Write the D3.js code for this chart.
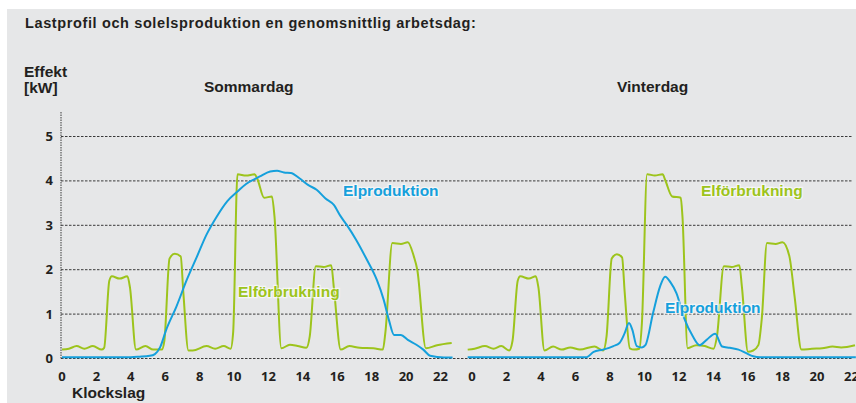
<!DOCTYPE html>
<html>
<head>
<meta charset="utf-8">
<script src="https://cdn.jsdelivr.net/npm/d3@7"></script>
<style>
  body { margin: 0; background: #fff; }
  svg { display: block; }
  .lbl { font-family: "Liberation Sans", Arial, sans-serif; font-weight: bold; }
  .tick { font-family: "Open Sans", "Noto Sans", sans-serif; font-weight: 700; font-size: 13px; fill: #231f20; }
</style>
</head>
<body>
<svg id="chart" width="856" height="403"></svg>
<script>
// hour, kW
const summerUse = [[0,0.2],[0.4,0.22],[0.85,0.28],[1.3,0.22],[1.8,0.28],[2.3,0.2],[2.45,0.24],[2.75,1.75],[2.9,1.85],[3.35,1.8],[3.8,1.85],[3.95,1.6],[4.3,0.2],[4.85,0.28],[5.3,0.2],[5.8,0.2],[5.95,0.4],[6.25,2.25],[6.55,2.36],[6.9,2.3],[7.05,1.5],[7.35,0.18],[7.6,0.18],[8.4,0.28],[8.9,0.22],[9.4,0.28],[9.8,0.22],[9.95,0.6],[10.2,4.15],[10.7,4.12],[11.2,4.15],[11.35,4.05],[11.75,3.62],[12.2,3.65],[12.35,3.2],[12.75,0.23],[13.25,0.31],[13.7,0.28],[14.2,0.24],[14.4,0.5],[14.75,2.08],[15.2,2.06],[15.65,2.1],[15.8,1.6],[16.2,0.2],[16.7,0.28],[17.3,0.24],[18.1,0.23],[18.65,0.2],[18.8,0.6],[19.2,2.6],[19.7,2.58],[20.1,2.62],[20.45,2.3],[20.65,2.0],[21.15,0.23],[21.8,0.3],[22.65,0.35]];

const summerProd = [[0,0.03],[2,0.03],[4,0.03],[4.5,0.04],[5.1,0.06],[5.4,0.1],[5.7,0.25],[6.05,0.64],[6.65,1.17],[7.25,1.77],[7.85,2.3],[8.4,2.79],[9.0,3.2],[9.6,3.54],[10.2,3.76],[10.7,3.93],[11.2,4.04],[11.5,4.1],[12.1,4.21],[12.5,4.23],[12.9,4.19],[13.3,4.18],[13.8,4.06],[14.3,3.91],[14.8,3.8],[15.3,3.61],[15.8,3.46],[16.2,3.2],[16.55,3.01],[17.1,2.67],[17.7,2.24],[18.3,1.77],[18.7,1.32],[19.0,0.87],[19.3,0.53],[19.7,0.53],[20.1,0.42],[20.6,0.31],[21.0,0.2],[21.4,0.06],[22.2,0.02],[22.7,0.02]];

const winterUse = [[-0.25,0.2],[0.15,0.22],[0.75,0.28],[1.25,0.22],[1.7,0.28],[2.15,0.18],[2.35,0.4],[2.65,1.75],[2.8,1.85],[3.3,1.8],[3.7,1.85],[3.85,1.6],[4.2,0.18],[4.7,0.27],[5.2,0.2],[5.7,0.25],[6.25,0.2],[7.1,0.27],[7.6,0.18],[7.8,0.5],[8.1,2.25],[8.4,2.35],[8.7,2.28],[8.85,1.5],[9.15,0.23],[9.4,0.2],[9.7,0.22],[9.85,0.8],[10.15,4.15],[10.6,4.12],[11.05,4.15],[11.2,4.02],[11.6,3.65],[12.1,3.62],[12.2,3.2],[12.5,0.23],[13.0,0.3],[13.5,0.28],[14.0,0.22],[14.2,0.5],[14.6,2.08],[15.05,2.06],[15.5,2.1],[15.65,1.6],[16.0,0.15],[16.3,0.18],[16.6,0.3],[16.8,0.9],[17.1,2.6],[17.6,2.58],[18.0,2.62],[18.4,2.3],[18.7,1.4],[19.1,0.2],[19.7,0.22],[20.3,0.23],[20.9,0.27],[21.4,0.25],[22.2,0.3]];

const winterProd = [[-0.25,0.03],[6.65,0.03],[7.05,0.15],[7.6,0.2],[8.2,0.28],[8.55,0.35],[8.85,0.57],[9.1,0.8],[9.3,0.64],[9.55,0.28],[9.85,0.25],[10.05,0.3],[10.5,1.03],[10.9,1.62],[11.2,1.84],[11.5,1.72],[11.85,1.47],[12.3,0.91],[12.8,0.5],[13.2,0.3],[13.6,0.42],[14.1,0.56],[14.5,0.27],[14.95,0.24],[15.45,0.2],[15.9,0.12],[16.3,0.05],[16.7,0.03],[22.25,0.03]];

const hourTicks = [0,2,4,6,8,10,12,14,16,18,20,22];
const kwTicks = [0,1,2,3,4,5];

const blue = "#15a0dc", green = "#9dc41c";

const svg = d3.select("#chart");

svg.append("rect")
    .attr("x", 7).attr("y", 9)
    .attr("width", 849).attr("height", 394)
    .attr("fill", "#e6e7e8");

const y = d3.scaleLinear().domain([0, 5]).range([358.5, 136.5]);
const xS = d3.scaleLinear().domain([0, 22]).range([62, 440.5]);
const xW = d3.scaleLinear().domain([0, 22]).range([472, 851.5]);

// gridlines
svg.append("g")
    .selectAll("line")
    .data(kwTicks)
    .join("line")
        .attr("x1", 61).attr("x2", 852)
        .attr("y1", d => y(d)).attr("y2", d => y(d))
        .style("stroke", "#3a3a3a")
        .style("stroke-width", 1)
        .style("stroke-dasharray", "2.5,1.5");

svg.append("line")
    .attr("x1", 61).attr("x2", 61)
    .attr("y1", 112).attr("y2", y(0))
    .style("stroke", "#3a3a3a")
    .style("stroke-dasharray", "1.5,1");

// y tick labels
svg.append("g")
    .selectAll("text")
    .data(kwTicks)
    .join("text")
        .attr("class", "tick")
        .attr("x", 53)
        .attr("y", d => y(d) + 4.5)
        .attr("text-anchor", "end")
        .text(d => d);

// x tick labels, both panels
[xS, xW].forEach(function (x) {
    svg.append("g")
        .selectAll("text")
        .data(hourTicks)
        .join("text")
            .attr("class", "tick")
            .attr("x", d => x(d))
            .attr("y", 381)
            .attr("text-anchor", "middle")
            .text(d => d);
});

const line = function (x) {
    return d3.line()
        .x(d => x(d[0]))
        .y(d => y(d[1]))
        .curve(d3.curveMonotoneX);
};

const series = [
    {data: summerUse, x: xS, color: green},
    {data: summerProd, x: xS, color: blue},
    {data: winterUse, x: xW, color: green},
    {data: winterProd, x: xW, color: blue}
];

svg.append("g")
    .selectAll("path")
    .data(series)
    .join("path")
        .attr("d", d => line(d.x)(d.data))
        .style("fill", "none")
        .style("stroke", d => d.color)
        .style("stroke-width", 2)
        .style("stroke-linejoin", "round");

// texts
const texts = [
    {t: "Lastprofil och solelsproduktion en genomsnittlig arbetsdag:", x: 25, y: 28, s: 14.5, ls: 0.62, c: "#231f20"},
    {t: "Effekt", x: 24, y: 77, s: 15.5, c: "#231f20"},
    {t: "[kW]", x: 24, y: 93, s: 15.5, c: "#231f20"},
    {t: "Sommardag", x: 204, y: 92, s: 15.5, c: "#231f20"},
    {t: "Vinterdag", x: 617, y: 92, s: 15.5, c: "#231f20"},
    {t: "Klockslag", x: 72, y: 398, s: 15.5, c: "#231f20"},
    {t: "Elproduktion", x: 343, y: 196, s: 15.5, c: blue, halo: true},
    {t: "Elförbrukning", x: 238, y: 297, s: 15.5, c: green, halo: true},
    {t: "Elförbrukning", x: 701, y: 196, s: 15.5, c: green, halo: true},
    {t: "Elproduktion", x: 665, y: 313, s: 15.5, c: blue, halo: true}
];

svg.append("g")
    .selectAll("text")
    .data(texts)
    .join("text")
        .attr("class", "lbl")
        .attr("x", d => d.x)
        .attr("y", d => d.y)
        .style("font-size", d => d.s + "px")
        .style("letter-spacing", d => (d.ls || 0) + "px")
        .style("fill", d => d.c)
        .style("stroke", d => d.halo ? "rgba(255,255,255,0.6)" : "none")
        .style("stroke-width", 2.5)
        .style("paint-order", "stroke")
        .text(d => d.t);
</script>
</body>
</html>
